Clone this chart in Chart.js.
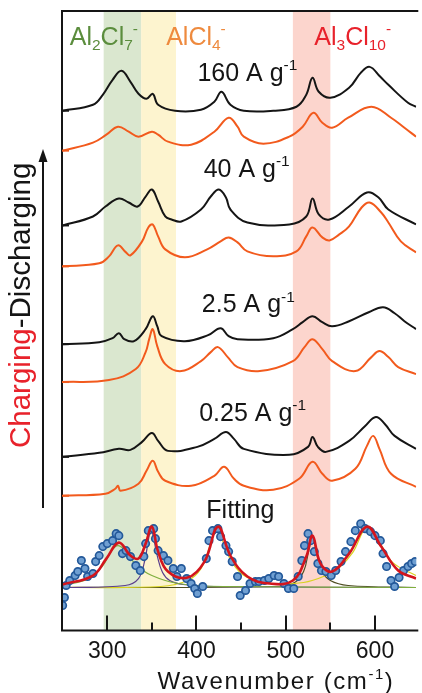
<!DOCTYPE html>
<html>
<head>
<meta charset="utf-8">
<script src="https://cdn.jsdelivr.net/npm/chart.js@4.4.1/dist/chart.umd.min.js"></script>
<style>
  html, body { margin: 0; padding: 0; background: #fff; }
  #wrap { width: 422px; height: 693px; }
</style>
</head>
<body>
<div id="wrap"><canvas id="raman"></canvas></div>
<script>
const FONT = '"Liberation Sans", Arial, Helvetica, sans-serif';

// Raman traces, intensity above each trace's own baseline (a.u.)
const wnB160 = [250, 284, 295, 306, 316, 326, 335, 344, 351, 357, 376, 405, 420, 428, 438, 453, 486, 512, 523, 530, 537, 550, 571, 584, 594, 606, 615, 637, 646];
const inB160 = [0, 6, 16, 31, 40, 29, 17, 12, 17, 6, 0, 1, 9, 19, 6, 0, 0, 4, 16, 33, 19, 13, 23, 38, 44, 34, 26, 8, 4];
const wnO160 = [250, 284, 299, 312, 324, 335, 350, 357, 368, 394, 420, 436, 446, 453, 475, 504, 519, 531, 541, 552, 570, 596, 618, 633, 646];
const inO160 = [0, 8, 16, 24, 19, 14, 19, 16, 9, 6, 19, 33, 24, 14, 7, 14, 24, 38, 28, 23, 33, 44, 33, 23, 14];

const wnB40 = [250, 284, 298, 313, 324, 334, 343, 350, 357, 365, 372, 383, 405, 416, 425, 433, 438, 457, 504, 523, 530, 537, 549, 571, 591, 604, 615, 646];
const inB40 = [0, 9, 19, 27, 23, 19, 29, 36, 24, 9, 6, 4, 16, 29, 36, 28, 16, 3, 1, 9, 27, 11, 6, 19, 33, 28, 16, 1];
const wnO40 = [250, 291, 302, 312, 321, 326, 339, 346, 351, 357, 365, 387, 412, 427, 436, 446, 457, 486, 512, 523, 530, 541, 549, 560, 571, 585, 594, 607, 615, 629, 646];
const inO40 = [0, 3, 10, 21, 14, 11, 25, 39, 42, 30, 17, 9, 17, 25, 29, 24, 15, 10, 15, 30, 39, 29, 26, 32, 40, 59, 64, 54, 44, 25, 14];

const wnB25 = [250, 291, 306, 313, 319, 330, 343, 351, 356, 361, 387, 413, 427, 436, 446, 486, 508, 519, 530, 541, 552, 571, 593, 609, 622, 633, 646];
const inB25 = [0, 2, 6, 11, 5, 3, 15, 28, 18, 8, 3, 9, 16, 8, 5, 6, 15, 22, 28, 22, 18, 23, 32, 37, 31, 23, 15];
const wnO25 = [250, 302, 332, 343, 347, 351, 356, 365, 383, 405, 416, 424, 435, 446, 471, 508, 521, 530, 541, 552, 578, 596, 605, 615, 626, 646];
const inO25 = [0, 2, 13, 30, 43, 53, 36, 18, 11, 21, 30, 35, 25, 15, 11, 21, 35, 43, 33, 21, 11, 25, 31, 25, 15, 8];

const wnB025 = [250, 291, 313, 326, 339, 350, 357, 368, 401, 420, 433, 442, 453, 504, 525, 530, 536, 545, 571, 589, 601, 611, 622, 646];
const inB025 = [0, 4, 8, 7, 15, 24, 16, 6, 10, 18, 25, 18, 8, 2, 10, 20, 10, 5, 16, 31, 40, 33, 21, 8];
const wnO025 = [250, 298, 309, 312, 315, 335, 344, 351, 357, 365, 394, 420, 431, 442, 453, 486, 515, 530, 541, 552, 578, 591, 598, 605, 618, 646];
const inO025 = [0, 2, 7, 10, 5, 12, 25, 35, 24, 15, 10, 20, 29, 17, 10, 6, 17, 34, 22, 15, 27, 50, 60, 47, 22, 9];

// measured spectrum with its peak fit
const wnMeas = [250, 252, 254, 258, 264, 267, 271, 275, 278, 284, 287, 291, 295, 300, 306, 310, 313, 317, 321, 326, 332, 337, 341, 343, 346, 352, 354, 357, 363, 368, 374, 378, 383, 389, 394, 398, 401, 407, 411, 414, 418, 424, 427, 433, 436, 440, 446, 449, 455, 460, 466, 470, 476, 481, 487, 492, 498, 503, 509, 514, 518, 521, 525, 528, 532, 536, 540, 545, 551, 556, 562, 567, 573, 578, 584, 589, 595, 600, 606, 609, 613, 618, 622, 627, 632, 637, 641, 645];
const inMeas = [-18, -10, 2, 7, 12, 16, 27, 19, 11, 14, 26, 32, 41, 44, 47, 54, 52, 34, 37, 31, 22, 17, 31, 44, 57, 59, 49, 37, 32, 27, 19, 11, 19, 9, 4, -1, -6, 1, 29, 47, 57, 59, 51, 42, 36, 26, 11, -8, -3, 4, 6, 6, 7, 9, 12, 11, 4, -1, -1, 11, 27, 42, 54, 47, 36, 24, 17, 16, 12, 17, 26, 36, 46, 57, 64, 59, 56, 52, 47, 34, 21, 7, 1, 10, 17, 21, 24, 26];
const wnFit = [250, 284, 299, 313, 326, 335, 343, 350, 357, 368, 390, 409, 424, 438, 457, 482, 508, 523, 530, 539, 552, 571, 591, 607, 626, 646];
const inFit = [3, 12, 29, 45, 32, 29, 44, 61, 36, 16, 10, 26, 61, 32, 11, 4, 7, 31, 52, 24, 16, 34, 61, 41, 17, 9];

// fitted components: Al2Cl7- (green), AlCl4- (purple, yellow), Al3Cl10- (olive)
const wnGreen = [250, 280, 295, 305, 312, 320, 330, 340, 350, 365, 380, 400, 430, 646];
const inGreen = [2, 9, 22, 37, 42, 37, 25, 17, 12, 7, 4, 2, 1, 0];
const wnPurple = [250, 320, 335, 342, 346, 349, 352, 356, 362, 370, 385, 420, 646];
const inPurple = [0, 2, 9, 27, 47, 59, 49, 32, 15, 7, 3, 1, 0];
const wnYellow = [250, 360, 390, 405, 415, 423, 430, 440, 455, 480, 520, 545, 560, 575, 591, 605, 620, 646];
const inYellow = [0, 1, 7, 19, 42, 60, 45, 25, 11, 4, 5, 12, 20, 35, 60, 45, 25, 12];
const wnOlive = [250, 490, 510, 520, 526, 530, 534, 540, 550, 570, 646];
const inOlive = [0, 1, 5, 16, 38, 52, 37, 17, 7, 2, 0];

// vertical stacking of the traces
const baseB160 = 521, baseO160 = 481, baseB40 = 406, baseO40 = 365;
const baseB25 = 287, baseO25 = 249, baseB025 = 174, baseO025 = 135, baseFit = 43;

const xTicks = [300, 400, 500, 600];
const xMinorTicks = [350, 450, 550];

// highlighted anion regions
const bandFrom = [296, 338, 508];
const bandTo = [338, 377, 550];
const bandColors = ['#dae7cf', '#fdf4cf', '#fcd5cd'];

const BLACK = '#151515';
const ORANGE = '#f25a1d';

function trace(wn, vals, base) {
  return wn.map((x, i) => ({ x: x, y: base + vals[i] }));
}

function lineSet(data, color, width, order) {
  return {
    data: data, showLine: true, borderColor: color, borderWidth: width,
    pointRadius: 0, tension: 0.4, order: order
  };
}

const stackTicks = [
  [baseB160, BLACK], [baseO160, ORANGE], [baseB40, BLACK], [baseO40, ORANGE],
  [baseB25, BLACK], [baseO25, ORANGE], [baseB025, BLACK], [baseO025, ORANGE]
];

// text drawn on the plot, anchored in data coordinates (left edge, baseline)
const plotTexts = [
  { wn: 258, y: 587, color: '#5b8d3d', size: 25, parts: [['Al', 'n'], ['2', 'sub'], ['Cl', 'n'], ['7', 'sub'], ['-', 'sup']] },
  { wn: 366, y: 587, color: '#ee8a3e', size: 25, parts: [['AlCl', 'n'], ['4', 'sub'], ['-', 'sup']] },
  { wn: 532, y: 587, color: '#e8222b', size: 25, parts: [['Al', 'n'], ['3', 'sub'], ['Cl', 'n'], ['10', 'sub'], ['-', 'sup']] },
  { wn: 401, y: 551, color: BLACK, size: 25, parts: [['160 A g', 'n'], ['-1', 'sup']] },
  { wn: 408, y: 455, color: BLACK, size: 25, parts: [['40 A g', 'n'], ['-1', 'sup']] },
  { wn: 406, y: 319, color: BLACK, size: 25, parts: [['2.5 A g', 'n'], ['-1', 'sup']] },
  { wn: 403, y: 210, color: BLACK, size: 25, parts: [['0.25 A g', 'n'], ['-1', 'sup']] },
  { wn: 411, y: 113, color: BLACK, size: 25, parts: [['Fitting', 'n']] }
];

function richWidth(ctx, parts, size) {
  let w = 0;
  for (const [t, kind] of parts) {
    ctx.font = (kind === 'n' ? size : size * 0.62) + 'px ' + FONT;
    w += ctx.measureText(t).width;
  }
  return w;
}

function drawRich(ctx, parts, x, y, size, color) {
  ctx.save();
  ctx.fillStyle = color;
  ctx.textAlign = 'left';
  ctx.textBaseline = 'alphabetic';
  let cx = x;
  for (const [t, kind] of parts) {
    const s = kind === 'n' ? size : size * 0.62;
    const dy = kind === 'sub' ? size * 0.2 : kind === 'sup' ? -size * 0.42 : 0;
    ctx.font = s + 'px ' + FONT;
    ctx.fillText(t, cx, y + dy);
    cx += ctx.measureText(t).width;
  }
  ctx.restore();
}

const decor = {
  id: 'decor',
  beforeDatasetsDraw(chart) {
    const { ctx, chartArea: a, scales: { x } } = chart;
    ctx.save();
    bandFrom.forEach((from, i) => {
      const x0 = x.getPixelForValue(from);
      const x1 = x.getPixelForValue(bandTo[i]);
      ctx.fillStyle = bandColors[i];
      ctx.fillRect(x0, a.top, x1 - x0, a.bottom - a.top);
    });
    ctx.restore();
  },
  afterDraw(chart) {
    const { ctx, chartArea: a, scales: { x, y } } = chart;
    ctx.save();

    // frame (left, top, bottom)
    ctx.strokeStyle = BLACK;
    ctx.lineWidth = 2;
    ctx.beginPath();
    ctx.moveTo(a.right + 2, a.top);
    ctx.lineTo(a.left, a.top);
    ctx.lineTo(a.left, a.bottom);
    ctx.lineTo(a.right + 2, a.bottom);
    ctx.stroke();

    // inward ticks on the wavenumber axis
    ctx.beginPath();
    xTicks.forEach(v => {
      const px = Math.round(x.getPixelForValue(v));
      ctx.moveTo(px, a.bottom);
      ctx.lineTo(px, a.bottom - 15);
    });
    xMinorTicks.forEach(v => {
      const px = Math.round(x.getPixelForValue(v));
      ctx.moveTo(px, a.bottom);
      ctx.lineTo(px, a.bottom - 8);
    });
    ctx.stroke();

    // baseline markers on the left axis
    stackTicks.forEach(([base, color]) => {
      const py = y.getPixelForValue(base);
      ctx.strokeStyle = color;
      ctx.beginPath();
      ctx.moveTo(a.left, py);
      ctx.lineTo(a.left + 7, py);
      ctx.stroke();
    });

    plotTexts.forEach(t => {
      drawRich(ctx, t.parts, x.getPixelForValue(t.wn), y.getPixelForValue(t.y), t.size, t.color);
    });

    // axis title, slightly letter-spaced
    ctx.letterSpacing = '1.6px';
    const title = [['Wavenumber (cm', 'n'], ['-1', 'sup'], [')', 'n']];
    const tw = richWidth(ctx, title, 24);
    drawRich(ctx, title, 276 - tw / 2, 689, 24, BLACK);
    ctx.letterSpacing = '0px';

    // charging direction arrow and label
    ctx.strokeStyle = BLACK;
    ctx.fillStyle = BLACK;
    ctx.lineWidth = 2;
    ctx.beginPath();
    ctx.moveTo(43, 508);
    ctx.lineTo(43, 160);
    ctx.stroke();
    ctx.beginPath();
    ctx.moveTo(43, 149);
    ctx.lineTo(38.5, 162);
    ctx.lineTo(47.5, 162);
    ctx.closePath();
    ctx.fill();

    ctx.translate(22, 448);
    ctx.rotate(-Math.PI / 2);
    ctx.textBaseline = 'middle';
    ctx.textAlign = 'left';
    ctx.font = '29.5px ' + FONT;
    ctx.fillStyle = '#e8222b';
    ctx.fillText('Charging', 0, 0);
    const cw = ctx.measureText('Charging').width;
    ctx.fillStyle = BLACK;
    ctx.fillText('-Discharging', cw, 0);
    ctx.restore();
  }
};

new Chart(document.getElementById('raman'), {
  type: 'scatter',
  data: {
    datasets: [
      lineSet(trace(wnB160, inB160, baseB160), BLACK, 2, 5),
      lineSet(trace(wnO160, inO160, baseO160), ORANGE, 2, 5),
      lineSet(trace(wnB40, inB40, baseB40), BLACK, 2, 5),
      lineSet(trace(wnO40, inO40, baseO40), ORANGE, 2, 5),
      lineSet(trace(wnB25, inB25, baseB25), BLACK, 2, 5),
      lineSet(trace(wnO25, inO25, baseO25), ORANGE, 2, 5),
      lineSet(trace(wnB025, inB025, baseB025), BLACK, 2, 5),
      lineSet(trace(wnO025, inO025, baseO025), ORANGE, 2, 5),
      lineSet(trace(wnGreen, inGreen, baseFit), '#7fae3e', 1.2, 3),
      lineSet(trace(wnPurple, inPurple, baseFit), '#5b3f8c', 1.2, 3),
      lineSet(trace(wnYellow, inYellow, baseFit), '#d8d21f', 1.2, 3),
      lineSet(trace(wnOlive, inOlive, baseFit), '#4e4d22', 1.2, 3),
      {
        data: trace(wnMeas, inMeas, baseFit), showLine: false, order: 1,
        pointRadius: 3.7, pointBackgroundColor: '#6f9fd2', pointBorderColor: '#24599a', pointBorderWidth: 1.7
      },
      lineSet(trace(wnFit, inFit, baseFit), '#d3151d', 2.6, 0)
    ]
  },
  options: {
    responsive: true,
    maintainAspectRatio: false,
    animation: false,
    layout: { padding: { left: 62, right: 0, top: 11, bottom: 21 } },
    plugins: { legend: { display: false }, tooltip: { enabled: false } },
    scales: {
      x: {
        type: 'linear', min: 249.3, max: 646.3,
        grid: { display: false, drawTicks: false },
        border: { display: false },
        ticks: { font: { family: FONT, size: 23 }, color: BLACK, padding: 7, maxRotation: 0, autoSkip: false },
        afterBuildTicks: s => { s.ticks = xTicks.map(v => ({ value: v })); }
      },
      y: { min: 0, max: 621, display: false }
    }
  },
  plugins: [decor]
});
</script>
</body>
</html>
